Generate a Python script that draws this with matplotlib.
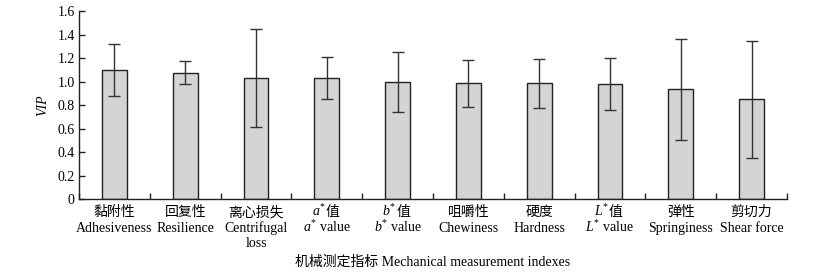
import matplotlib
matplotlib.use("Agg")
import matplotlib.pyplot as plt
import matplotlib.transforms as mtransforms
import numpy as np

plt.rcParams['font.family'] = ['Liberation Serif', 'Noto Sans CJK SC']
plt.rcParams['mathtext.fontset'] = 'custom'
plt.rcParams['mathtext.rm'] = 'Liberation Serif'
plt.rcParams['mathtext.it'] = 'Liberation Serif:italic'

# each label: (first line, rest lines); first line may be (math prefix, CJK suffix)
cat_cn = ["黏附性", "回复性", "离心损失", ("$a^{*}$", "值"), ("$b^{*}$", "值"),
          "咀嚼性", "硬度", ("$L^{*}$", "值"), "弹性", "剪切力"]
cat_en = [["Adhesiveness"], ["Resilience"], ["Centrifugal", "loss"], ["$a^{*}$ value"],
          ["$b^{*}$ value"], ["Chewiness"], ["Hardness"], ["$L^{*}$ value"],
          ["Springiness"], ["Shear force"]]
vip = [1.10, 1.075, 1.03, 1.03, 0.995, 0.985, 0.985, 0.978, 0.935, 0.848]
err = [0.22, 0.10, 0.42, 0.18, 0.257, 0.20, 0.21, 0.218, 0.43, 0.50]
yticks = [0, 0.2, 0.4, 0.6, 0.8, 1.0, 1.2, 1.4, 1.6]
yticklabels = ["0", "0.2", "0.4", "0.6", "0.8", "1.0", "1.2", "1.4", "1.6"]

fig = plt.figure(figsize=(8.24, 2.72), dpi=100)
ax = fig.add_axes([0.0959, 0.268, 0.8592, 0.6916])
x = np.arange(len(vip))
ax.bar(x, vip, width=0.35, color='#d4d4d4', edgecolor='#222222', linewidth=1.0, zorder=2)
ax.errorbar(x, vip, yerr=err, fmt='none', ecolor='#333333', elinewidth=1.0,
            capsize=4.5, capthick=1.0, zorder=3)

ax.set_xlim(-0.5, len(vip) - 0.5)
ax.set_ylim(0, 1.6)
ax.set_yticks(yticks)
ax.set_yticklabels(yticklabels, fontsize=10)
ax.set_xticks([])
ax.set_xticks(np.arange(-0.5, len(vip), 1.0), minor=True)
ax.tick_params(axis='x', which='minor', direction='in', length=4, width=1.0,
               color='#222222', labelbottom=False)
ax.tick_params(axis='y', direction='in', length=4, width=1.0, color='#222222', pad=3)
for s in ['top', 'right']:
    ax.spines[s].set_visible(False)
for s in ['left', 'bottom']:
    ax.spines[s].set_linewidth(1.0)
    ax.spines[s].set_color('#222222')

# category labels drawn as text under each bar
base = ax.get_xaxis_transform()
baselines = [-17, -33, -48]
for i, (cn, en) in enumerate(zip(cat_cn, cat_en)):
    tr0 = mtransforms.offset_copy(base, fig=fig, x=0, y=baselines[0], units='dots')
    if isinstance(cn, tuple):
        trl = mtransforms.offset_copy(base, fig=fig, x=-1, y=baselines[0], units='dots')
        ax.text(i, 0, cn[0], transform=trl, ha='right', va='baseline', fontsize=10)
        ax.text(i, 0, cn[1], transform=trl, ha='left', va='baseline', fontsize=10)
    else:
        ax.text(i, 0, cn, transform=tr0, ha='center', va='baseline', fontsize=10)
    for k, line in enumerate(en):
        trk = mtransforms.offset_copy(base, fig=fig, x=0, y=baselines[k + 1], units='dots')
        ax.text(i, 0, line, transform=trk, ha='center', va='baseline', fontsize=10)

ax.set_ylabel("VIP", fontsize=10, style='italic', labelpad=6)
fig.text(0.0959 + 0.8592 / 2, 0.012, "机械测定指标 Mechanical measurement indexes",
         ha='center', va='bottom', fontsize=10)

fig.savefig("out.png", dpi=100)
